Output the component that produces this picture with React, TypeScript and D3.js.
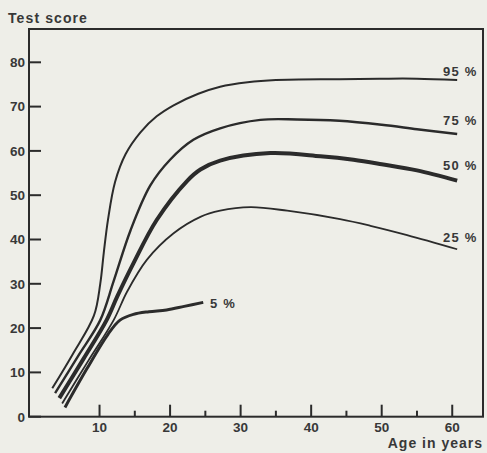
import React from "react";
import * as d3 from "d3";

const W = 487;
const H = 453;

// Percentile curves: ages (years) and test scores
const p95Ages = [3.3, 6.2, 9.2, 10.1, 10.6, 11.2, 12.2, 13.7, 15.8, 18.1, 20.5, 24, 27.1, 31, 35, 44, 50, 55, 60.7];
const p95Scores = [6.4, 14.1, 22.8, 30, 37, 44.5, 53, 59.3, 64.2, 67.8, 70.3, 72.9, 74.5, 75.5, 76, 76.2, 76.3, 76.3, 76];

const p75Ages = [3.7, 7, 10.1, 12, 14.4, 17.2, 20, 23.3, 27.1, 32.8, 38, 44, 50, 55, 60.7];
const p75Scores = [5.3, 13.8, 21.8, 30.6, 42.1, 52.2, 58, 62.5, 65.1, 67, 67.1, 66.8, 65.9, 64.9, 63.8];

const p50Ages = [4.3, 7.7, 11, 12.5, 14.8, 18.1, 22.4, 24.3, 27.1, 34.2, 41.3, 46, 50, 55, 60.7];
const p50Scores = [4.2, 13, 21.8, 27.1, 34.6, 44.4, 53.2, 55.8, 57.8, 59.5, 58.8, 58, 57, 55.6, 53.3];

const p25Ages = [4.7, 8.4, 12, 13.9, 16.7, 20.5, 24.3, 27.1, 31.4, 36.6, 44.1, 48.4, 53.6, 60.7];
const p25Scores = [3, 12.6, 21.8, 28.2, 35.4, 41.4, 45.1, 46.5, 47.3, 46.5, 44.6, 43.1, 41, 37.8];

const p5Ages = [5.1, 8.2, 11.2, 12.9, 14.8, 17, 19.5, 22, 24.7];
const p5Scores = [2.1, 10.8, 18.6, 21.8, 23.1, 23.7, 24.1, 24.9, 25.8];

const seriesLabels = ["95 %", "75 %", "50 %", "25 %", "5 %"];

const yTicks = [0, 10, 20, 30, 40, 50, 60, 70, 80];
const xMajorTicks = [10, 20, 30, 40, 50, 60];
const xMinorTicks = [15, 25, 35, 45, 55];

const LEFT = 29;
const RIGHT = 483;
const TOP = 29;
const BOTTOM = 416.7;

const INK = "#2b2b2b";
const TEXT = "#383838";
const BG = "#eeeee8";
const FONT = "'Liberation Sans', Arial, Helvetica, sans-serif";

export default function App() {
  const x = d3.scaleLinear().domain([0, (RIGHT - LEFT) / 7.054]).range([LEFT, RIGHT]);
  const y = d3.scaleLinear().domain([0, (BOTTOM - TOP) / 4.43]).range([BOTTOM, TOP]);

  const line = d3
    .line<[number, number]>()
    .x((d) => x(d[0]))
    .y((d) => y(d[1]))
    .curve(d3.curveCatmullRom.alpha(0.5));

  const zip = (a: number[], b: number[]) => a.map((v, i) => [v, b[i]] as [number, number]);

  const series = [
    { ages: p95Ages, scores: p95Scores, width: 2, label: seriesLabels[0] },
    { ages: p75Ages, scores: p75Scores, width: 2.4, label: seriesLabels[1] },
    { ages: p50Ages, scores: p50Scores, width: 4, label: seriesLabels[2] },
    { ages: p25Ages, scores: p25Scores, width: 1.8, label: seriesLabels[3] },
    { ages: p5Ages, scores: p5Scores, width: 3, label: seriesLabels[4] },
  ];

  const labelPos = [
    { x: 443, y: 75.5 },
    { x: 443, y: 125 },
    { x: 443, y: 170 },
    { x: 443, y: 241.5 },
    { x: 210, y: 308 },
  ];

  return (
    <svg
      width={W}
      height={H}
      viewBox={`0 0 ${W} ${H}`}
      style={{ position: "absolute", left: 0, top: 0, display: "block", background: BG }}
    >
      <rect x={0} y={0} width={W} height={H} fill={BG} />

      {/* frame */}
      <rect
        x={LEFT}
        y={TOP}
        width={RIGHT - LEFT}
        height={BOTTOM - TOP}
        fill="none"
        stroke={INK}
        strokeWidth={2}
      />

      {/* y ticks */}
      {yTicks.map((t) => (
        <g key={"y" + t}>
          <line x1={LEFT} x2={LEFT + 12} y1={y(t)} y2={y(t)} stroke={INK} strokeWidth={2} />
          <text
            x={25}
            y={y(t)}
            dy="0.36em"
            textAnchor="end"
            fontFamily={FONT}
            fontWeight="bold"
            fontSize={13.5}
            fill={TEXT}
          >
            {t}
          </text>
        </g>
      ))}

      {/* x ticks */}
      {xMajorTicks.map((t) => (
        <g key={"x" + t}>
          <line x1={x(t)} x2={x(t)} y1={BOTTOM} y2={BOTTOM - 12} stroke={INK} strokeWidth={2} />
          <text
            x={x(t)}
            y={432}
            textAnchor="middle"
            fontFamily={FONT}
            fontWeight="bold"
            fontSize={13.5}
            fill={TEXT}
          >
            {t}
          </text>
        </g>
      ))}
      {xMinorTicks.map((t) => (
        <line key={"m" + t} x1={x(t)} x2={x(t)} y1={BOTTOM} y2={BOTTOM - 6} stroke={INK} strokeWidth={2} />
      ))}

      {/* curves */}
      {series.map((s, i) => (
        <path
          key={"s" + i}
          d={line(zip(s.ages, s.scores)) || ""}
          fill="none"
          stroke={INK}
          strokeWidth={s.width}
          strokeLinecap="butt"
        />
      ))}

      {/* series labels */}
      {series.map((s, i) => (
        <text
          key={"l" + i}
          x={labelPos[i].x}
          y={labelPos[i].y}
          fontFamily={FONT}
          fontWeight="bold"
          fontSize={13}
          letterSpacing={1.2}
          fill={TEXT}
        >
          {s.label}
        </text>
      ))}

      {/* axis titles */}
      <text x={8} y={23} fontFamily={FONT} fontWeight="bold" fontSize={14} letterSpacing={1.1} fill={TEXT}>
        Test score
      </text>
      <text
        x={483}
        y={448}
        textAnchor="end"
        fontFamily={FONT}
        fontWeight="bold"
        fontSize={14}
        letterSpacing={1}
        fill={TEXT}
      >
        Age in years
      </text>
    </svg>
  );
}
